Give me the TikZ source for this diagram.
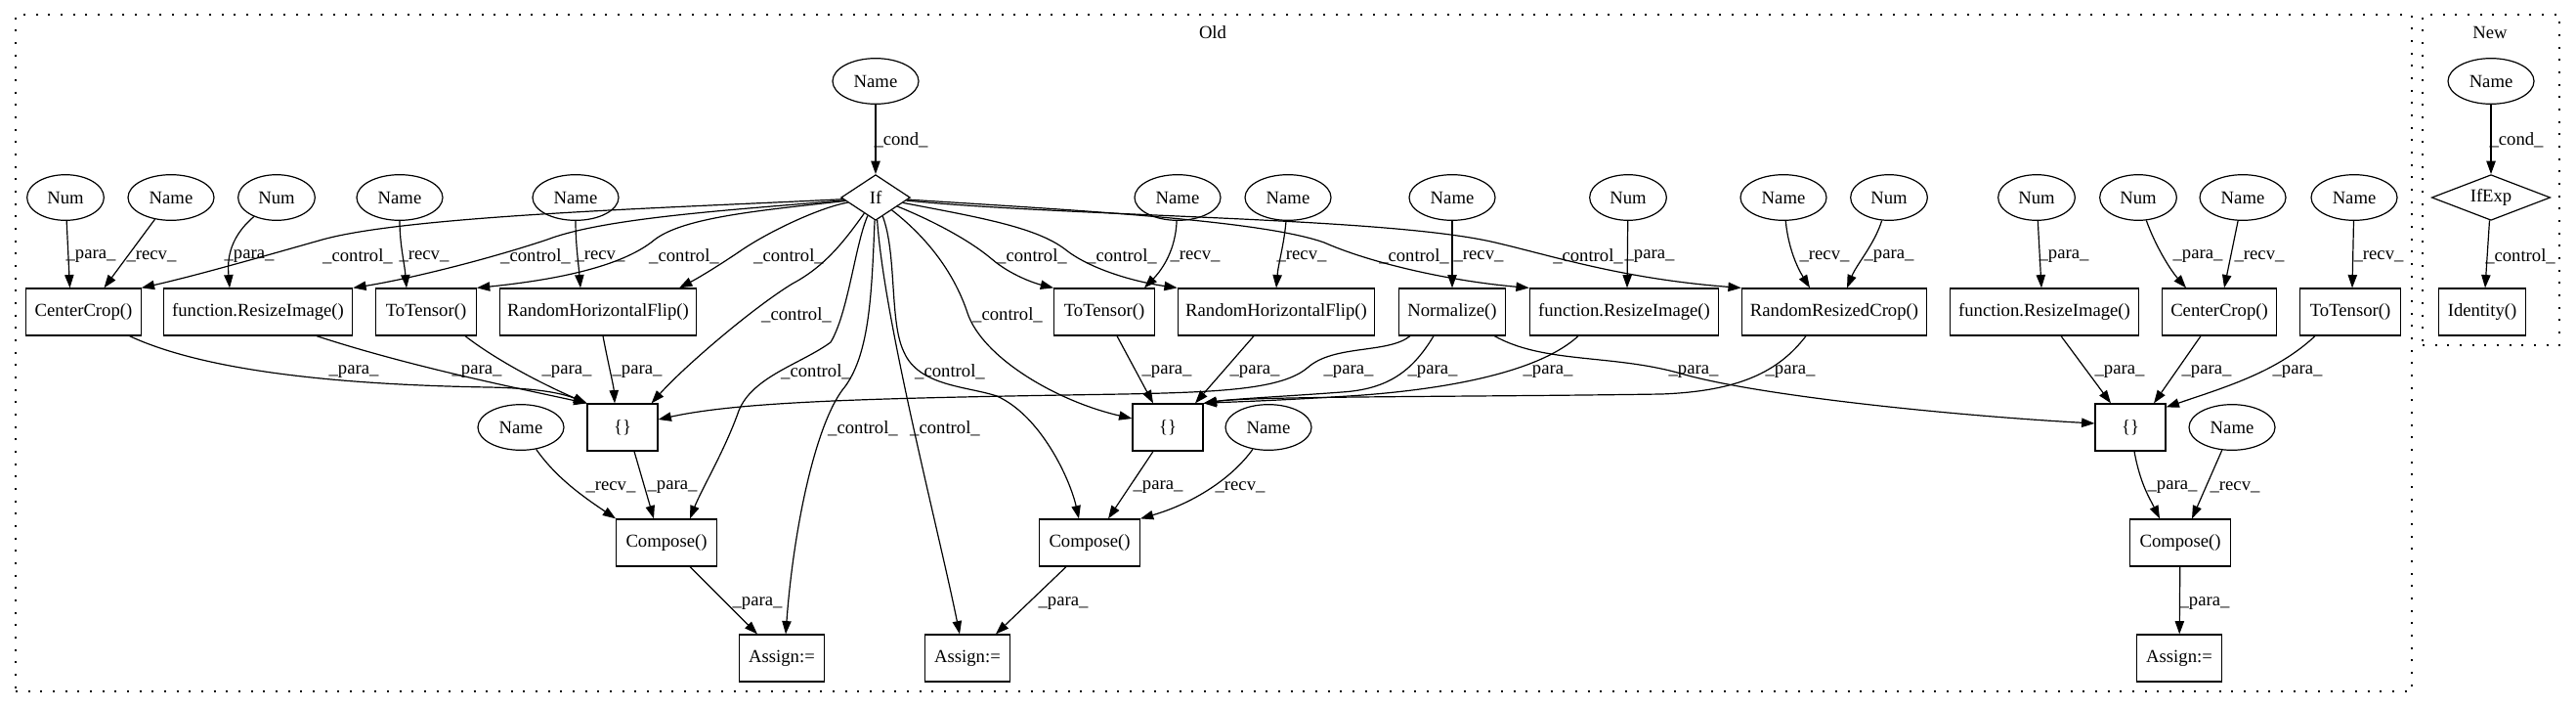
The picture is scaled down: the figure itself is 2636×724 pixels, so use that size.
\documentclass[tikz,border=0pt]{standalone}
\usepackage{fontspec}
\setmainfont{Liberation Serif}
\usetikzlibrary{shapes.geometric,arrows.meta,calc}
\newcommand{\elab}[4]{\node[lbl] (#1) at (#2,#3) {#4};}
\begin{document}
\begin{tikzpicture}[x=0.75pt,y=-0.75pt,
  every node/.style={font=\fontsize{14}{16}\selectfont},
  bx/.style={draw,rectangle,line width=0.9pt,minimum height=36pt,inner xsep=4pt,inner ysep=0pt},
  el/.style={draw,ellipse,line width=0.9pt,minimum height=35pt,inner sep=0pt},
  nameE/.style={el,minimum width=66pt},
  numE/.style={el,minimum width=59pt},
  dia/.style={draw,diamond,line width=0.9pt,inner sep=0pt,minimum height=35pt,shape aspect=1.5},
  e/.style={draw,line width=0.9pt,-{Triangle[length=10pt,width=7pt]}},
  lbl/.style={inner sep=0pt},
  clu/.style={draw,line width=1pt,dash pattern=on 1.5pt off 8pt,inner sep=0pt}]
\useasboundingbox (0,0) rectangle (2636,724);
% clusters
\node[clu,minimum width=1839pt,minimum height=519pt] (old) at (1242,361) {};
\node[clu,minimum width=105pt,minimum height=253.5pt] (new) at (2549,184) {};
\node (told) at (1241,33) {Old};
\node (tnew) at (2548,33) {New};
% top
\node[nameE] (nc) at (896,83) {Name};
\node[dia,minimum width=53pt] (if) at (896,202) {If};
% ellipse row
\node[numE] (n1) at (67,202) {Num};
\node[nameE] (n2) at (175,202) {Name};
\node[numE] (n3) at (283,202) {Num};
\node[nameE] (n4) at (409,202) {Name};
\node[nameE] (n5) at (589,202) {Name};
\node[nameE] (n6) at (1205,202) {Name};
\node[nameE] (n7) at (1318,202) {Name};
\node[nameE] (n8) at (1486,202) {Name};
\node[numE] (n9) at (1666,202) {Num};
\node[nameE] (n10) at (1825,202) {Name};
\node[numE] (n11) at (1933,202) {Num};
\node[numE] (n12) at (2084,202) {Num};
\node[numE] (n13) at (2188,202) {Num};
\node[nameE] (n14) at (2295,202) {Name};
\node[nameE] (n15) at (2409,202) {Name};
% box row
\node[bx,minimum width=88pt] (cc1) at (85.5,319) {CenterCrop()};
\node[bx,minimum width=145pt] (ri1) at (264,319) {function.ResizeImage()};
\node[bx,minimum width=77pt] (tt1) at (436,319) {ToTensor()};
\node[bx,minimum width=151pt] (rh1) at (612,319) {RandomHorizontalFlip()};
\node[bx,minimum width=77pt] (tt2) at (1130,319) {ToTensor()};
\node[bx,minimum width=151pt] (rh2) at (1306,319) {RandomHorizontalFlip()};
\node[bx,minimum width=82pt] (nz) at (1486,319) {Normalize()};
\node[bx,minimum width=145pt] (ri2) at (1662,319) {function.ResizeImage()};
\node[bx,minimum width=142pt] (rrc) at (1877,319) {RandomResizedCrop()};
\node[bx,minimum width=145pt] (ri3) at (2092,319) {function.ResizeImage()};
\node[bx,minimum width=88pt] (cc3) at (2271,319) {CenterCrop()};
\node[bx,minimum width=77pt] (tt3) at (2405,319) {ToTensor()};
% {} row
\node[bx,minimum width=54pt] (b1) at (637,437) {\{\}};
\node[nameE] (nm1) at (533,437) {Name};
\node[bx,minimum width=54pt] (b2) at (1195,437) {\{\}};
\node[nameE] (nm2) at (1298,437) {Name};
\node[bx,minimum width=54pt] (b3) at (2180,437) {\{\}};
\node[nameE] (nm3) at (2284,437) {Name};
% compose row
\node[bx,minimum width=77pt] (cp1) at (682,555) {Compose()};
\node[bx,minimum width=77pt] (cp2) at (1115,555) {Compose()};
\node[bx,minimum width=77pt] (cp3) at (2231,555) {Compose()};
% assign row
\node[bx,minimum width=65pt] (as1) at (800,673) {Assign:=};
\node[bx,minimum width=65pt] (as2) at (990,673) {Assign:=};
\node[bx,minimum width=65pt] (as3) at (2230,673) {Assign:=};
% new cluster
\node[nameE] (nn) at (2549,83) {Name};
\node[dia,minimum width=91pt,shape aspect=2.6] (ife) at (2549,202) {IfExp};
\node[bx,minimum width=67pt] (idn) at (2540,319) {Identity()};

% ---- edges
\draw[e] (nc) -- (if);
\draw[e] (n1) -- ($(cc1.north)+(-14,0)$);
\draw[e] (n2) -- ($(cc1.north)+(21,0)$);
\draw[e] (n3) .. controls (232,245) and (233,270) .. ($(ri1.north)+(-29,0)$);
\draw[e] (n4) .. controls (409,250) and (414,270) .. ($(tt1.north)+(-20,0)$);
\draw[e] (n5) .. controls (589,250) and (592,270) .. ($(rh1.north)+(-18,0)$);
% If controls left
\draw[e] (if) .. controls (700,212) and (420,220) .. (330,245) .. controls (270,262) and (200,282) .. (cc1.north east);
\draw[e] (if) .. controls (760,214) and (620,222) .. (560,245) .. controls (500,265) and (420,285) .. (ri1.north east);
\draw[e] (if) .. controls (780,215) and (700,222) .. (670,245) .. controls (640,270) and (580,285) .. (tt1.north east);
\draw[e] (if) .. controls (840,212) and (790,235) .. (760,255) .. controls (735,272) and (715,284) .. ($(rh1.north)+(83,0)$);
\draw[e] (if) .. controls (865,245) and (845,272) .. (811,290) .. controls (770,315) and (700,375) .. ($(b1.north east)+(-7,0)$);
\draw[e] (if) .. controls (875,250) and (868,320) .. (850,350) .. controls (820,372) and (770,385) .. (756,420) .. controls (742,460) and (718,500) .. ($(cp1.north)+(24,0)$);
\draw[e] (if) .. controls (892,300) and (890,360) .. (865,395) .. controls (835,430) and (812,540) .. ($(as1.north)+(4,0)$);
\draw[e] (if) .. controls (905,330) and (960,540) .. ($(as2.north)+(-8,0)$);
\draw[e] (if) .. controls (918,260) and (910,330) .. (925,360) .. controls (940,395) and (990,395) .. (1020,405) .. controls (1065,425) and (1095,490) .. ($(cp2.north)+(-11,0)$);
\draw[e] (if) .. controls (945,240) and (975,275) .. (990,320) .. controls (1005,365) and (1080,410) .. ($(b2.west)+(0,-9)$);
\draw[e] (if) .. controls (960,228) and (995,248) .. (1015,265) .. controls (1035,282) and (1060,290) .. (tt2.north west);
\draw[e] (if) .. controls (1000,222) and (1060,232) .. (1090,255) .. controls (1115,275) and (1160,288) .. (rh2.north west);
\draw[e] (if) .. controls (1100,215) and (1290,225) .. (1355,248) .. controls (1400,268) and (1480,287) .. (ri2.north west);
\draw[e] (if) .. controls (1100,222) and (1420,222) .. (1530,248) .. controls (1590,262) and (1660,285) .. (rrc.north west);
% middle ellipses
\draw[e] (n6) .. controls (1203,255) and (1190,275) .. ($(tt2.north)+(41,0)$);
\draw[e] (n7) .. controls (1314,250) and (1308,270) .. (rh2.north);
\draw[e] (n8) -- (nz);
\draw[e] (n9) -- ($(ri2.north)+(3,0)$);
\draw[e] (n10) .. controls (1830,255) and (1840,275) .. ($(rrc.north)+(-25,0)$);
\draw[e] (n11) .. controls (1918,250) and (1900,270) .. ($(rrc.north)+(13,0)$);
\draw[e] (n12) -- ($(ri3.north)+(-3,0)$);
\draw[e] (n13) .. controls (2205,250) and (2220,275) .. ($(cc3.north)+(-34,0)$);
\draw[e] (n14) -- ($(cc3.north)+(5,0)$);
\draw[e] (n15) -- ($(tt3.north)+(2,0)$);
% to {}1
\draw[e] ($(cc1.south)+(47,0)$) .. controls (200,375) and (320,393) .. (500,396) .. controls (550,397) and (575,402) .. (b1.north west);
\draw[e] ($(ri1.south)+(60,0)$) .. controls (420,375) and (530,397) .. (b1.north west);
\draw[e] ($(tt1.south)+(40,0)$) .. controls (510,370) and (560,395) .. (b1.north west);
\draw[e] ($(rh1.south)+(5,0)$) .. controls (622,370) and (628,395) .. ($(b1.north)+(-8,0)$);
\draw[e] ($(nz.south)+(-43,0)$) .. controls (1420,362) and (1365,352) .. (1338,376) .. controls (1312,398) and (1250,401) .. (1150,403) .. controls (900,407) and (760,410) .. ($(b1.east)+(0,-8)$);
% to {}2
\draw[e] ($(tt2.south)+(13,0)$) -- ($(b2.north)+(-15,0)$);
\draw[e] ($(rh2.south)+(-23,0)$) -- ($(b2.north)+(28,0)$);
\draw[e] ($(nz.south)+(-19,0)$) .. controls (1445,380) and (1420,398) .. (1373,401) .. controls (1320,405) and (1260,408) .. (b2.north east);
\draw[e] ($(ri2.south)+(-47,0)$) .. controls (1570,385) and (1460,400) .. (1380,405) .. controls (1300,410) and (1260,411) .. (b2.north east);
\draw[e] ($(rrc.south)+(-29,0)$) .. controls (1820,380) and (1780,400) .. (1700,403) .. controls (1500,406) and (1280,405) .. (b2.north east);
% to {}3
\draw[e] ($(nz.south east)+(-12,0)$) .. controls (1580,372) and (1650,362) .. (1720,382) .. controls (1800,405) and (2000,425) .. ($(b3.west)+(0,-4)$);
\draw[e] ($(ri3.south)+(17,0)$) -- ($(b3.north)+(-20,0)$);
\draw[e] ($(cc3.south)+(-19,0)$) -- ($(b3.north)+(24,0)$);
\draw[e] ($(tt3.south)+(-36,0)$) .. controls (2330,380) and (2280,395) .. ($(b3.north east)+(0,4)$);
% compose
\draw[e] ($(b1.south)+(12,0)$) -- ($(cp1.north)+(-13,0)$);
\draw[e] (nm1) .. controls (570,490) and (600,510) .. (cp1.north west);
\draw[e] ($(cp1.south)+(24,0)$) -- ($(as1.north)+(-25,0)$);
\draw[e] ($(b2.south)+(-15,0)$) -- ($(cp2.north)+(19,0)$);
\draw[e] (nm2) .. controls (1260,490) and (1220,515) .. (cp2.north east);
\draw[e] ($(cp2.south)+(-24,0)$) -- ($(as2.north)+(29,0)$);
\draw[e] ($(b3.south)+(4,0)$) .. controls (2190,495) and (2200,510) .. ($(cp3.north)+(-21,0)$);
\draw[e] (nm3) -- ($(cp3.north)+(12,0)$);
\draw[e] (cp3) -- (as3);
% new
\draw[e] (nn) -- (ife);
\draw[e] (ife) -- ($(idn.north)+(3,0)$);

% ---- labels
\elab{l01}{922}{143}{\_cond\_}
\elab{l02}{93}{262}{\_para\_}
\elab{l03}{155}{262}{\_recv\_}
\elab{l04}{255}{262}{\_para\_}
\elab{l05}{366}{262}{\_control\_}
\elab{l06}{434}{262}{\_recv\_}
\elab{l07}{548}{262}{\_control\_}
\elab{l08}{614}{262}{\_recv\_}
\elab{l09}{700}{262}{\_control\_}
\elab{l10}{807}{262}{\_control\_}
\elab{l11}{815}{322}{\_control\_}
\elab{l12}{835}{380}{\_control\_}
\elab{l13}{883}{438}{\_control\_}
\elab{l14}{967}{438}{\_control\_}
\elab{l15}{972}{380}{\_control\_}
\elab{l16}{1031}{322}{\_control\_}
\elab{l17}{1056}{262}{\_control\_}
\elab{l18}{1148}{262}{\_control\_}
\elab{l19}{1223}{262}{\_recv\_}
\elab{l20}{1332}{262}{\_recv\_}
\elab{l21}{1447}{262}{\_control\_}
\elab{l22}{1513}{262}{\_recv\_}
\elab{l23}{1625}{262}{\_control\_}
\elab{l24}{1688}{262}{\_para\_}
\elab{l25}{1867}{262}{\_recv\_}
\elab{l26}{1933}{262}{\_para\_}
\elab{l27}{2112}{262}{\_para\_}
\elab{l28}{2249}{262}{\_para\_}
\elab{l29}{2312}{262}{\_recv\_}
\elab{l30}{2434}{262}{\_recv\_}
\elab{l31}{2575}{143}{\_cond\_}
\elab{l32}{2579}{262}{\_control\_}
\elab{l33}{362}{380}{\_para\_}
\elab{l34}{488}{380}{\_para\_}
\elab{l35}{580}{380}{\_para\_}
\elab{l36}{652}{380}{\_para\_}
\elab{l37}{1194}{380}{\_para\_}
\elab{l38}{1284}{380}{\_para\_}
\elab{l39}{1380}{380}{\_para\_}
\elab{l40}{1466}{380}{\_para\_}
\elab{l41}{1584}{380}{\_para\_}
\elab{l42}{1733}{380}{\_para\_}
\elab{l43}{1832}{380}{\_para\_}
\elab{l44}{2169}{380}{\_para\_}
\elab{l45}{2258}{380}{\_para\_}
\elab{l46}{2351}{380}{\_para\_}
\elab{l47}{625}{498}{\_recv\_}
\elab{l48}{688}{498}{\_para\_}
\elab{l49}{1185}{498}{\_para\_}
\elab{l50}{1269}{498}{\_recv\_}
\elab{l51}{2223}{498}{\_para\_}
\elab{l52}{2287}{498}{\_recv\_}
\elab{l53}{775}{617}{\_para\_}
\elab{l54}{1088}{617}{\_para\_}
\elab{l55}{2256}{617}{\_para\_}
\end{tikzpicture}
\end{document}
